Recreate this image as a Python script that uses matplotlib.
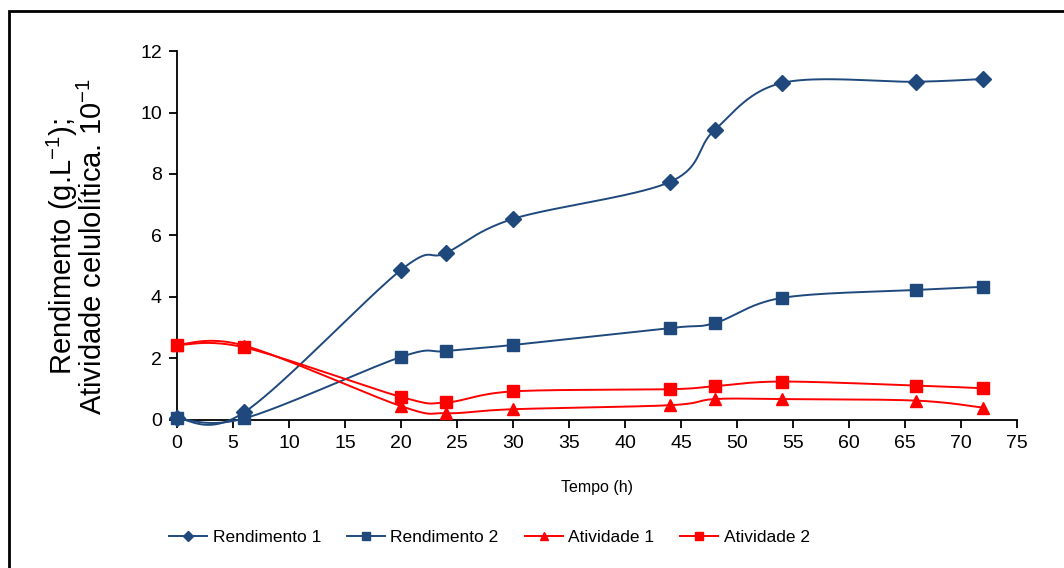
import numpy as np
import matplotlib
matplotlib.use("Agg")
import matplotlib.pyplot as plt
from matplotlib.patches import Rectangle

plt.rcParams['font.family'] = ['Liberation Sans', 'DejaVu Sans']
plt.rcParams['mathtext.fontset'] = 'custom'
plt.rcParams['mathtext.rm'] = 'Liberation Sans'
plt.rcParams['mathtext.it'] = 'Liberation Sans'

# data
tempo = [0, 6, 20, 24, 30, 44, 48, 54, 66, 72]
rendimento1 = [0.05, 0.25, 4.88, 5.43, 6.54, 7.74, 9.43, 10.96, 11.0, 11.09]
rendimento2 = [0.05, 0.05, 2.05, 2.24, 2.44, 2.99, 3.15, 3.97, 4.23, 4.33]
atividade1 = [2.45, 2.42, 0.45, 0.22, 0.35, 0.48, 0.68, 0.68, 0.63, 0.40]
atividade2 = [2.44, 2.36, 0.75, 0.57, 0.93, 1.00, 1.10, 1.25, 1.12, 1.03]

navy = "#1F497D"
red = "#FF0000"


def smooth(x, y, n=40):
    # Excel-like smoothed line (Catmull-Rom as Bezier)
    p = np.column_stack([x, y]).astype(float)
    ext = np.vstack([p[0], p, p[-1]])
    out = []
    t = np.linspace(0, 1, n)[:, None]
    for i in range(len(p) - 1):
        p0, p1, p2, p3 = ext[i], ext[i + 1], ext[i + 2], ext[i + 3]
        c1 = p1 + (p2 - p0) / 6
        c2 = p2 - (p3 - p1) / 6
        seg = ((1 - t) ** 3) * p1 + 3 * ((1 - t) ** 2) * t * c1 + 3 * (1 - t) * t ** 2 * c2 + t ** 3 * p2
        out.append(seg)
    out = np.vstack(out)
    return out[:, 0], out[:, 1]


fig = plt.figure(figsize=(10.64, 5.68), dpi=100)
ax = fig.add_axes([0.1664, 0.2606, 0.7894, 0.6496])

series = [
    (rendimento1, navy, "D", 8, "Rendimento 1"),
    (rendimento2, navy, "s", 9, "Rendimento 2"),
    (atividade1, red, "^", 9, "Atividade 1"),
    (atividade2, red, "s", 9, "Atividade 2"),
]
handles = []
for vals, col, mk, ms, lab in series:
    sx, sy = smooth(tempo, vals)
    ax.plot(sx, sy, color=col, lw=1.4, clip_on=False, zorder=3)
    ax.plot(tempo, vals, ls="none", marker=mk, ms=ms, color=col, clip_on=False, zorder=4)
    h, = ax.plot([], [], color=col, lw=1.4, marker=mk, ms=ms * 0.65, label=lab)
    handles.append(h)

ax.set_xlim(0, 75)
ax.set_ylim(0, 12)
ax.set_xticks(range(0, 80, 5))
ax.set_yticks(range(0, 14, 2))
ax.spines['top'].set_visible(False)
ax.spines['right'].set_visible(False)
for s in ['left', 'bottom']:
    ax.spines[s].set_linewidth(1.3)
ax.tick_params(direction='out', length=6, width=1.3, labelsize=14, pad=5)

ax.set_xlabel("Tempo (h)", fontsize=11.5, labelpad=20)
ax.set_ylabel("Rendimento (g.L$^{-1}$);\nAtividade celulolítica. 10$^{-1}$",
              fontsize=21, linespacing=0.95)
ax.yaxis.set_label_coords(-0.082, 0.47)

fig.legend(handles=handles, loc="center", bbox_to_anchor=(0.46, 0.054), ncol=4,
           frameon=False, fontsize=12.5, handlelength=2.2, columnspacing=1.5,
           handletextpad=0.3)

fig.patches.append(Rectangle((9 / 1064, -0.1), 1.2, 1 - 11 / 568 + 0.1,
                             transform=fig.transFigure, fill=False,
                             edgecolor="black", lw=2))

fig.savefig("out.png", dpi=100)
